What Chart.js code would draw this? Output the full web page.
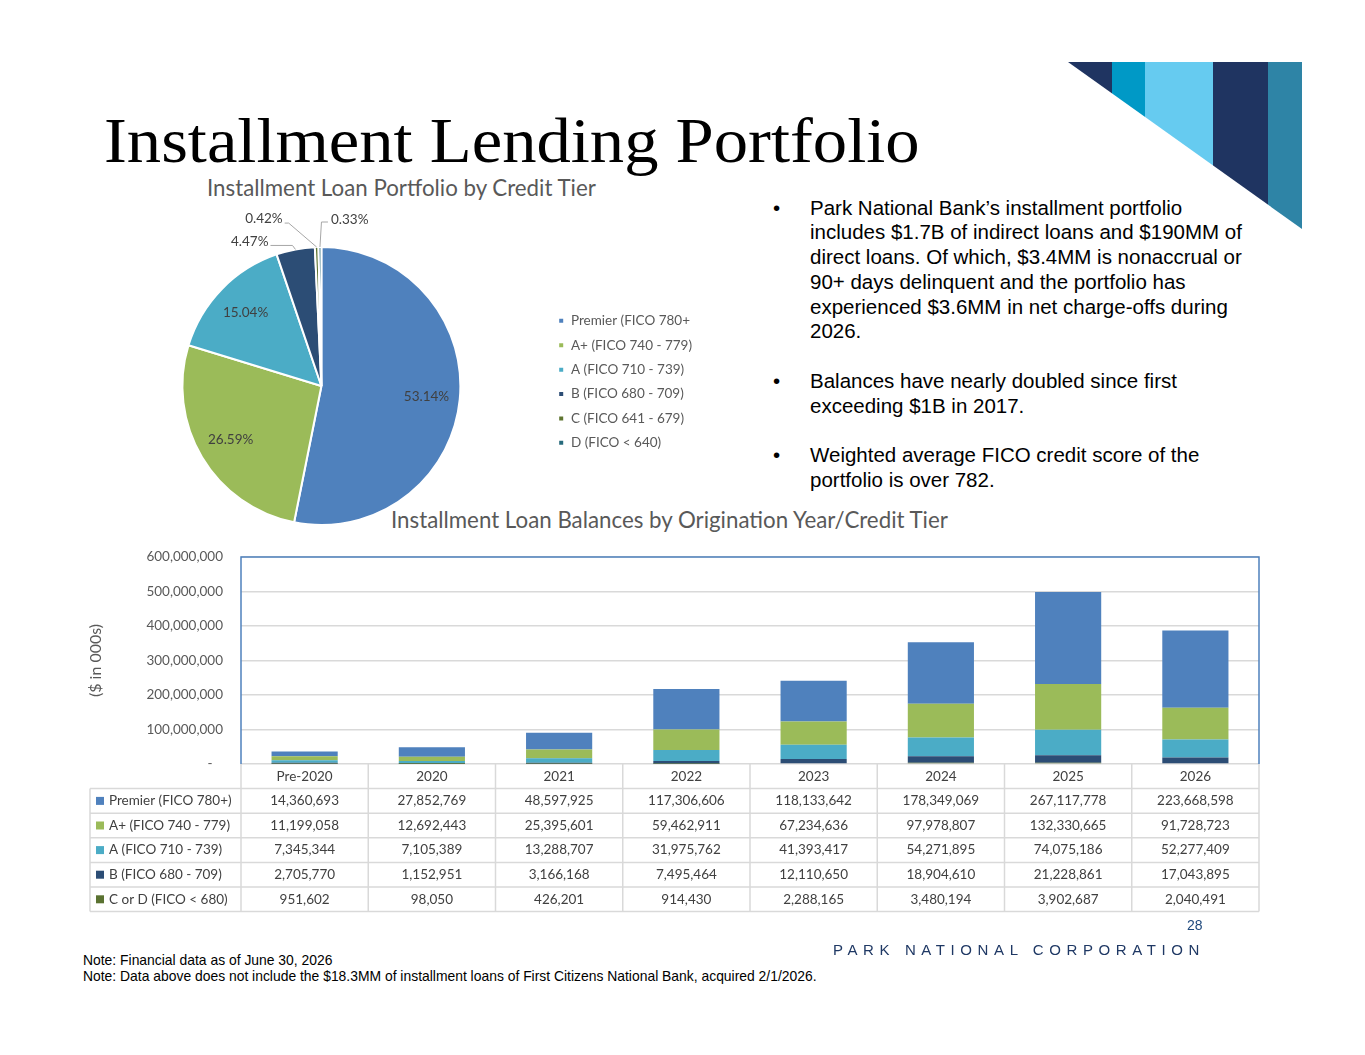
<!DOCTYPE html>
<html>
<head>
<meta charset="utf-8">
<script src="https://cdn.jsdelivr.net/npm/chart.js@4.4.1/dist/chart.umd.min.js"></script>
<style>
  html, body { margin: 0; padding: 0; background: #fff; }
  body { width: 1365px; height: 1055px; position: relative; overflow: hidden; font-family: "Liberation Sans", Arial, sans-serif; }
  .abs { position: absolute; white-space: nowrap; }
  #stripes {
    left: 1068px; top: 62px; width: 234px; height: 167px;
    clip-path: polygon(0 0, 100% 0, 100% 100%);
    background: linear-gradient(to right,
      #1f3461 0 44px, #0099c6 44px 77px, #66cbf0 77px 145px,
      #1f3461 145px 200px, #2e84a6 200px 234px);
  }
  #mainTitle { left: 104px; top: 109px; font: 64px/64px "Liberation Serif", serif; color: #000; transform: scaleX(1.072); transform-origin: 0 0; }
  #bullets { left: 773px; top: 195.5px; font-size: 20.5px; line-height: 24.8px; color: #000; }
  #bullets .b { position: relative; padding-left: 37px; margin-bottom: 24.8px; }
  #bullets .dot { position: absolute; left: 0; top: 0; }
  #pieBox { left: 80px; top: 200px; width: 622px; height: 332px; }
  #barBox { left: 80px; top: 540px; width: 1190px; height: 380px; }
</style>
</head>
<body>
<div class="abs" id="stripes"></div>
<div class="abs" id="mainTitle">Installment Lending Portfolio</div>
<div class="abs" style="left:207px;top:177px;font:22.3px/22px Lato;color:#595959;">Installment Loan Portfolio by Credit Tier</div>
<div class="abs" style="left:391px;top:509px;font:22.3px/22px Lato;color:#595959;">Installment Loan Balances by Origination Year/Credit Tier</div>

<div class="abs" id="bullets">
  <div class="b"><span class="dot">•</span>Park National Bank’s installment portfolio<br>includes $1.7B of indirect loans and $190MM of<br>direct loans. Of which, $3.4MM is nonaccrual or<br>90+ days delinquent and the portfolio has<br>experienced $3.6MM in net charge-offs during<br>2026.</div>
  <div class="b"><span class="dot">•</span>Balances have nearly doubled since first<br>exceeding $1B in 2017.</div>
  <div class="b"><span class="dot">•</span>Weighted average FICO credit score of the<br>portfolio is over 782.</div>
</div>

<div class="abs" id="pieBox"><canvas id="pieChart"></canvas></div>
<div class="abs" id="barBox"><canvas id="barChart"></canvas></div>

<div class="abs" style="left:1187px;top:917px;font-size:14px;color:#1f497d;">28</div>
<div class="abs" style="left:833px;top:941px;font-size:15px;letter-spacing:5.6px;color:#1f3864;">PARK NATIONAL CORPORATION</div>
<div class="abs" style="left:83px;top:952px;font-size:13.9px;line-height:16px;color:#000;">Note: Financial data as of June 30, 2026<br>Note: Data above does not include the $18.3MM of installment loans of First Citizens National Bank, acquired 2/1/2026.</div>

<script>
// Pie: share of portfolio by credit tier (%)
const tierLabels = ['Premier (FICO 780+', 'A+ (FICO 740 - 779)', 'A (FICO 710 - 739)', 'B (FICO 680 - 709)', 'C (FICO 641 - 679)', 'D (FICO < 640)'];
const tierShares = [53.14, 26.59, 15.04, 4.47, 0.42, 0.33];
const tierColors = ['#4f81bd', '#9bbb59', '#4bacc6', '#2c4d75', '#5f7530', '#276a7c'];

// Bars: balances by origination year
const years = ['Pre-2020', '2020', '2021', '2022', '2023', '2024', '2025', '2026'];
const premier = [14360693, 27852769, 48597925, 117306606, 118133642, 178349069, 267117778, 223668598];
const aPlus = [11199058, 12692443, 25395601, 59462911, 67234636, 97978807, 132330665, 91728723];
const aTier = [7345344, 7105389, 13288707, 31975762, 41393417, 54271895, 74075186, 52277409];
const bTier = [2705770, 1152951, 3166168, 7495464, 12110650, 18904610, 21228861, 17043895];
const cOrD = [951602, 98050, 426201, 914430, 2288165, 3480194, 3902687, 2040491];
const yTicks = [0, 100000000, 200000000, 300000000, 400000000, 500000000, 600000000];

Chart.defaults.font.family = 'Lato';
Chart.defaults.animation = false;

// callout offsets for the thin slices, relative to the arc edge at mid angle
const pieCallouts = {
  3: { ex: -3, ey: -4, lx: -25, tx: -27, ty: -8, align: 'right' },
  4: { ex: -28, ey: -24, lx: -32, tx: -34, ty: -28, align: 'right' },
  5: { ex: 1.5, ey: -25, lx: 8, tx: 11, ty: -27, align: 'left' }
};

const pieLabels = {
  id: 'pieLabels',
  afterDatasetsDraw(chart) {
    const ctx = chart.ctx;
    const meta = chart.getDatasetMeta(0);
    ctx.save();
    ctx.font = '13.5px Lato';
    ctx.fillStyle = '#404040';
    ctx.textBaseline = 'middle';
    meta.data.forEach((arc, i) => {
      const p = arc.getProps(['x', 'y', 'startAngle', 'endAngle', 'outerRadius'], true);
      const mid = (p.startAngle + p.endAngle) / 2;
      const text = tierShares[i].toFixed(2) + '%';
      const c = pieCallouts[i];
      if (!c) {
        const r = p.outerRadius * 0.76;
        ctx.textAlign = 'center';
        ctx.fillText(text, p.x + Math.cos(mid) * r, p.y + Math.sin(mid) * r);
        return;
      }
      const ax = p.x + Math.cos(mid) * p.outerRadius;
      const ay = p.y + Math.sin(mid) * p.outerRadius;
      ctx.strokeStyle = '#a6a6a6';
      ctx.lineWidth = 1;
      ctx.beginPath();
      ctx.moveTo(ax, ay);
      ctx.lineTo(ax + c.ex, ay + c.ey);
      ctx.lineTo(ax + c.lx, ay + c.ey);
      ctx.stroke();
      ctx.textAlign = c.align;
      ctx.fillText(text, ax + c.tx, ay + c.ty);
    });
    ctx.restore();
  }
};

new Chart(document.getElementById('pieChart'), {
  type: 'pie',
  data: {
    labels: tierLabels,
    datasets: [{ data: tierShares, backgroundColor: tierColors, borderColor: '#fff', borderWidth: 2 }]
  },
  options: {
    responsive: true,
    maintainAspectRatio: false,
    layout: { padding: { top: 46, bottom: 6, left: 15.5, right: 0 } },
    plugins: {
      tooltip: { enabled: false },
      legend: {
        position: 'right',
        align: 'start',
        // blank title only pushes the items down to where the reference has them
        title: { display: true, text: ' ', font: { size: 1 }, padding: { top: 28, bottom: 28 } },
        labels: { boxWidth: 6, boxHeight: 6, padding: 10.9, color: '#595959', font: { size: 13.5 } }
      }
    }
  },
  plugins: [pieLabels]
});

// data table under the bars plus the blue frame round the plot
const tableRows = [
  { label: 'Premier (FICO 780+)', data: premier, color: '#4f81bd' },
  { label: 'A+ (FICO 740 - 779)', data: aPlus, color: '#9bbb59' },
  { label: 'A (FICO 710 - 739)', data: aTier, color: '#4bacc6' },
  { label: 'B (FICO 680 - 709)', data: bTier, color: '#2c4d75' },
  { label: 'C or D (FICO < 680)', data: cOrD, color: '#5a7231' }
];

const dataTable = {
  id: 'dataTable',
  afterDraw(chart) {
    const { ctx, chartArea: ca, scales: { x } } = chart;
    const rowH = 24.6;
    const labelLeft = 10;
    const top = ca.bottom;
    const bottom = top + rowH * (tableRows.length + 1);
    const colW = (ca.right - ca.left) / years.length;
    ctx.save();
    ctx.strokeStyle = '#d9d9d9';
    ctx.lineWidth = 1.5;
    ctx.beginPath();
    for (let r = 1; r <= tableRows.length + 1; r++) {
      ctx.moveTo(labelLeft, top + r * rowH);
      ctx.lineTo(ca.right, top + r * rowH);
    }
    ctx.moveTo(labelLeft, top + rowH);
    ctx.lineTo(labelLeft, bottom);
    years.forEach((y, i) => {
      const bx = x.getPixelForValue(i) - colW / 2;
      ctx.moveTo(bx, top);
      ctx.lineTo(bx, bottom);
    });
    ctx.moveTo(ca.right, top);
    ctx.lineTo(ca.right, bottom);
    ctx.stroke();

    ctx.font = '13.5px Lato';
    ctx.fillStyle = '#404040';
    ctx.textBaseline = 'middle';
    ctx.textAlign = 'center';
    years.forEach((y, i) => ctx.fillText(y, x.getPixelForValue(i), top + rowH / 2));
    tableRows.forEach((row, r) => {
      const cy = top + rowH * (r + 1.5);
      ctx.fillStyle = row.color;
      ctx.fillRect(labelLeft + 6, cy - 4, 8, 8);
      ctx.fillStyle = '#404040';
      ctx.textAlign = 'left';
      ctx.fillText(row.label, labelLeft + 19, cy);
      ctx.textAlign = 'center';
      row.data.forEach((v, i) => ctx.fillText(v.toLocaleString('en-US'), x.getPixelForValue(i), cy));
    });

    ctx.strokeStyle = '#4f81bd';
    ctx.lineWidth = 1.5;
    ctx.beginPath();
    ctx.moveTo(ca.left, ca.bottom);
    ctx.lineTo(ca.left, ca.top);
    ctx.lineTo(ca.right, ca.top);
    ctx.lineTo(ca.right, ca.bottom);
    ctx.stroke();
    ctx.restore();
  }
};

const barSet = (label, data, color) => ({ label, data, backgroundColor: color, barPercentage: 0.52, categoryPercentage: 1 });

new Chart(document.getElementById('barChart'), {
  type: 'bar',
  data: {
    labels: years,
    datasets: [
      barSet('C or D (FICO < 680)', cOrD, '#5a7231'),
      barSet('B (FICO 680 - 709)', bTier, '#2c4d75'),
      barSet('A (FICO 710 - 739)', aTier, '#4bacc6'),
      barSet('A+ (FICO 740 - 779)', aPlus, '#9bbb59'),
      barSet('Premier (FICO 780+)', premier, '#4f81bd')
    ]
  },
  options: {
    responsive: true,
    maintainAspectRatio: false,
    layout: { padding: { top: 17, right: 11, bottom: 156, left: 0 } },
    plugins: { legend: { display: false }, tooltip: { enabled: false } },
    scales: {
      x: { stacked: true, display: false },
      y: {
        stacked: true,
        min: yTicks[0],
        max: yTicks[yTicks.length - 1],
        afterFit: (s) => { s.width = 161; s.paddingTop = 0; s.paddingBottom = 0; },
        afterBuildTicks: (s) => { s.ticks = yTicks.map(v => ({ value: v })); },
        grid: { color: '#d9d9d9', lineWidth: 1.5, drawTicks: false },
        border: { display: false },
        ticks: {
          padding: 18,
          color: '#595959',
          font: { size: 13.5 },
          callback: (v) => v === 0 ? '-   ' : v.toLocaleString('en-US')
        },
        title: { display: true, text: '($ in 000s)', color: '#595959', font: { size: 16 }, padding: 6 }
      }
    }
  },
  plugins: [dataTable]
});
</script>
</body>
</html>
